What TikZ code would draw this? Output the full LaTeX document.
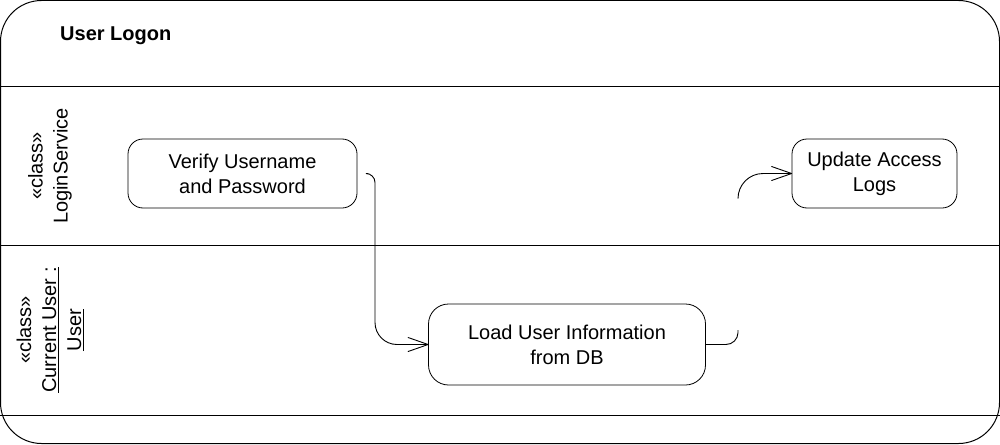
\documentclass[tikz,border=0pt]{standalone}
\usepackage{fontspec}
\setmainfont{Liberation Sans}
\usetikzlibrary{arrows.meta}
\pgfdeclarearrow{
  name = OpenVee,
  parameters = {\the\pgfarrowlength,\the\pgfarrowwidth},
  setup code = {
    \pgfarrowssettipend{0pt}
    \pgfarrowssetlineend{-0.5\pgflinewidth}
    \pgfarrowssetbackend{-\pgfarrowlength}
    \pgfarrowsupperhullpoint{-\pgfarrowlength}{0.5\pgfarrowwidth}
    \pgfarrowsupperhullpoint{0pt}{0pt}
    \pgfarrowssavethe\pgfarrowlength
    \pgfarrowssavethe\pgfarrowwidth
  },
  drawing code = {
    \pgfsetdash{}{0pt}
    \pgfsetroundjoin
    \pgfsetroundcap
    \pgfpathmoveto{\pgfqpoint{-\pgfarrowlength}{0.5\pgfarrowwidth}}
    \pgfpathlineto{\pgfpointorigin}
    \pgfpathlineto{\pgfqpoint{-\pgfarrowlength}{-0.5\pgfarrowwidth}}
    \pgfusepathqstroke
  },
  defaults = {length=20pt, width=14pt}
}
\begin{document}
\begin{tikzpicture}[x=1pt,y=-1pt,
  lbl/.style={font=\fontsize{20}{25}\selectfont, align=center, inner sep=0pt},
  act/.style={draw, line width=0.8pt, inner sep=0pt, font=\fontsize{20}{25}\selectfont, align=center},
  frameline/.style={line width=1pt},
  conn/.style={line width=0.9pt},
  tip/.style={-{OpenVee[length=20pt,width=14pt]}}
]
\useasboundingbox (0,0) rectangle (1000,444);
% frame and lanes
\draw[frameline, rounded corners=41pt] (0.5,0.5) rectangle (999.5,443.5);
\draw[frameline] (0,86) -- (1000,86);
\draw[frameline] (0,245) -- (1000,245);
\draw[frameline] (0,415) -- (1000,415);
% title
\node[lbl, font=\fontsize{20}{25}\selectfont\bfseries, anchor=base west] (title) at (60,41) {User Logon};
% lane labels
\node[lbl, rotate=90] (lane1) at (50,166) {«class»\\LoginService};
\node[lbl, rotate=90] (lane2) at (50,330) {«class»\\\underline{Current User :}\\\underline{User}};
% activities
\node[act, rounded corners=15pt, minimum width=229pt, minimum height=69pt] (verify) at (242.5,173.5) {Verify Username\\and Password};
\node[act, rounded corners=15pt, minimum width=165pt, minimum height=69pt] (update) at (874.5,173.5) {Update Access\\Logs};
\node[act, rounded corners=20pt, minimum width=277pt, minimum height=81pt] (load) at (567,344.5) {Load User Information\\from DB};
% connectors
\coordinate (c1) at (375,173.5);
\coordinate (c2) at (375,344.5);
\draw[conn, tip] ([xshift=11pt]verify.east) [rounded corners=9pt] -- (c1) [rounded corners=22pt] -- (c2) -- (load.west);
\coordinate (d1) at (738,344.5);
\coordinate (d2) at (738,330);
\coordinate (d3) at (738,198);
\coordinate (d4) at (738,173.5);
\draw[conn] (load.east) [rounded corners=12pt] -- (d1) -- (d2);
\draw[conn, tip] (d3) [rounded corners=25pt] -- (d4) -- (update.west);
\end{tikzpicture}
\end{document}
